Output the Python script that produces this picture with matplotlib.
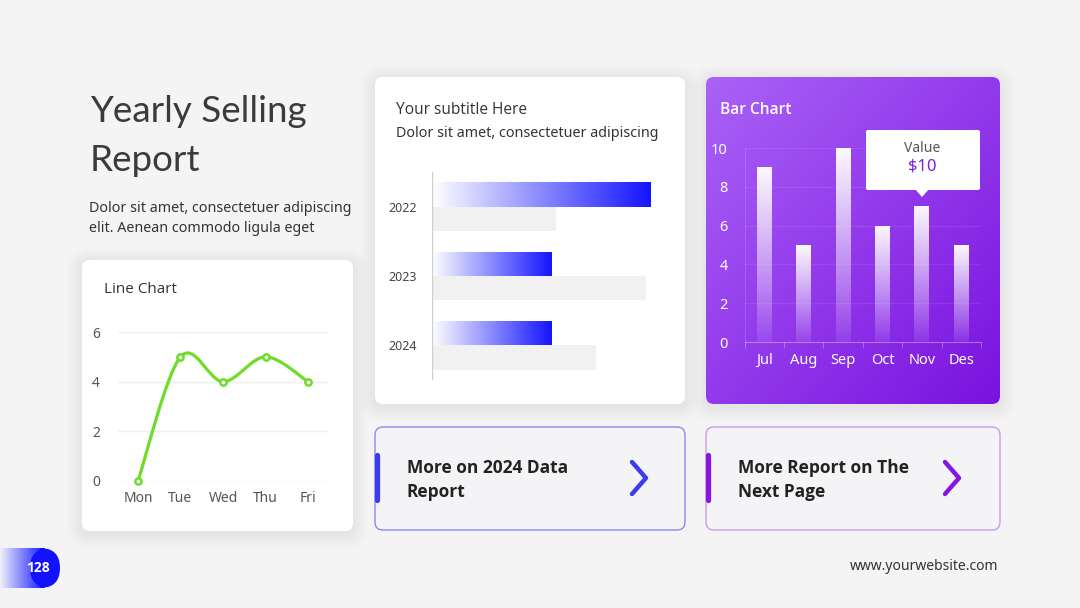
import numpy as np
import matplotlib.pyplot as plt
from matplotlib.patches import FancyBboxPatch, Polygon, PathPatch
from matplotlib.path import Path
from matplotlib.colors import to_rgb

# data ---------------------------------------------------------------------
days = ["Mon", "Tue", "Wed", "Thu", "Fri"]
day_values = [0, 5, 4, 5, 4]
day_ticks = [0, 2, 4, 6]

years = ["2022", "2023", "2024"]
year_blue = [100, 55, 55]
year_gray = [57, 98, 75]

months = ["Jul", "Aug", "Sep", "Oct", "Nov", "Des"]
month_values = [9, 5, 10, 6, 7, 5]
month_ticks = [0, 2, 4, 6, 8, 10]

W, H = 1080, 608
TITLE_FONT = ["Lato", "DejaVu Sans"]
HEAD_FONT = ["Open Sans", "DejaVu Sans"]
BODY_FONT = ["Noto Sans", "DejaVu Sans"]

fig = plt.figure(figsize=(W / 100, H / 100), dpi=100)
fig.patch.set_facecolor("#f4f4f4")
ax0 = fig.add_axes([0, 0, 1, 1])
ax0.set_facecolor("#f4f4f4")
ax0.axis("off")


def px_rect(x0, y0, x1, y1):
    """pixel box (top-left origin) -> figure fraction rect"""
    return [x0 / W, 1 - y1 / H, (x1 - x0) / W, (y1 - y0) / H]


def rbox(x0, y0, x1, y1, r, **kw):
    return FancyBboxPatch((x0, y0), x1 - x0, y1 - y0,
                          boxstyle=f"round,pad=0,rounding_size={r}", **kw)


def shadow(x0, y0, x1, y1, r=8):
    for k in range(1, 16):
        ax0.add_patch(rbox(x0 - k, y0 - k + 3, x1 + k, y1 + k + 3, r + k,
                           fc="#000000", ec="none", alpha=0.0028, zorder=1))


def gradient_img(ax, c0, c1, n=256, diag=False, extent=None, clip=None, z=2):
    c0 = np.array(to_rgb(c0))
    c1 = np.array(to_rgb(c1))
    xx, yy = np.meshgrid(np.linspace(0, 1, n), np.linspace(0, 1, n))
    t = (xx + yy) / 2 if diag else xx
    img = c0 + (c1 - c0) * t[..., None]
    im = ax.imshow(img, extent=extent, origin="upper", aspect="auto",
                   interpolation="bilinear", zorder=z)
    if clip is not None:
        im.set_clip_path(clip)
    return im


# titles -------------------------------------------------------------------
ax0.text(90, 122, "Yearly Selling", fontsize=26.5, color="#3b3b3b",
         family=TITLE_FONT, va="baseline")
ax0.text(90, 171, "Report", fontsize=26.5, color="#3b3b3b",
         family=TITLE_FONT, va="baseline")
ax0.text(89, 212, "Dolor sit amet, consectetuer adipiscing", fontsize=10.3,
         color="#333333", family=BODY_FONT, va="baseline")
ax0.text(89, 232, "elit. Aenean commodo ligula eget", fontsize=10.3,
         color="#333333", family=BODY_FONT, va="baseline")

# cards --------------------------------------------------------------------
shadow(82, 260, 353, 531)
ax0.add_patch(rbox(82, 260, 353, 531, 8, fc="white", ec="none", zorder=2))
ax0.text(104, 293, "Line Chart", fontsize=11, color="#333333",
         family=HEAD_FONT, va="baseline", zorder=3)

shadow(375, 77, 685, 404)
ax0.add_patch(rbox(375, 77, 685, 404, 8, fc="white", ec="none", zorder=2))
ax0.text(396, 114, "Your subtitle Here", fontsize=11.2, color="#333333",
         family=HEAD_FONT, va="baseline", zorder=3)
ax0.text(396, 137, "Dolor sit amet, consectetuer adipiscing", fontsize=10.3,
         color="#333333", family=BODY_FONT, va="baseline", zorder=3)

shadow(706, 77, 1000, 404)
purple_card = rbox(706, 77, 1000, 404, 8, fc="none", ec="none", zorder=2)
ax0.add_patch(purple_card)
gradient_img(ax0, "#aa62f7", "#7a12df", diag=True,
             extent=(706, 1000, 404, 77), clip=purple_card, z=2)
ax0.text(720, 114, "Bar Chart", fontsize=11.2, color="white",
         family=HEAD_FONT, va="baseline", zorder=3, weight="semibold")

# buttons
buttons = [
    (375, 685, "#8a8af2", "#3b3bf0", "More on 2024 Data", "Report", 632),
    (706, 1000, "#c99be9", "#8716de", "More Report on The", "Next Page", 945),
]
for x0, x1, edge, accent, l1, l2, cx in buttons:
    ax0.add_patch(rbox(x0, 427, x1, 530, 8, fc="#f4f4f7", ec=edge, lw=1, zorder=2))
    ax0.plot([x0 + 2, x0 + 2], [455, 500], color=accent, lw=3.8,
             solid_capstyle="round", zorder=3)
    ax0.text(x0 + 32, 473, l1, fontsize=12.5, weight="bold", color="#222222",
             family=HEAD_FONT, va="baseline", zorder=3)
    ax0.text(x0 + 32, 497, l2, fontsize=12.5, weight="bold", color="#222222",
             family=HEAD_FONT, va="baseline", zorder=3)
    ax0.plot([cx, cx + 14, cx], [462, 478, 494], color=accent, lw=3.2,
             solid_capstyle="round", solid_joinstyle="round", zorder=3)

# page pill
pill = rbox(-40, 548, 60, 588, 20, fc="none", ec="none", zorder=2)
ax0.add_patch(pill)
gradient_img(ax0, "#f0f0fd", "#1212ff", extent=(0, 45, 588, 548), clip=pill, z=2)
ax0.add_patch(rbox(30, 548, 60, 588, 20, fc="#1212ff", ec="none", zorder=2))
ax0.add_patch(Polygon([(40, 548), (45, 548), (45, 588), (40, 588)],
                      closed=True, fc="#1212ff", ec="none", zorder=2))
ax0.text(38, 568, "128", fontsize=10, weight="bold", color="white",
         family=HEAD_FONT, ha="center", va="center", zorder=3)
ax0.text(998, 567, "www.yourwebsite.com", fontsize=10, color="#333333",
         family=BODY_FONT, ha="right", va="center", zorder=3)

ax0.set_xlim(0, W)
ax0.set_ylim(H, 0)

# line chart ---------------------------------------------------------------
ax1 = fig.add_axes(px_rect(118, 332, 328, 481))
ax1.set_facecolor("none")
for s in ax1.spines.values():
    s.set_visible(False)
xs = np.arange(len(days))
pts = np.column_stack([xs, np.array(day_values, float)])
ext = np.vstack([pts[0], pts, pts[-1]])
verts = [tuple(pts[0])]
codes = [Path.MOVETO]
for i in range(len(pts) - 1):
    p0, p1, p2, p3 = ext[i], ext[i + 1], ext[i + 2], ext[i + 3]
    verts += [tuple(p1 + (p2 - p0) / 6), tuple(p2 - (p3 - p1) / 6), tuple(p2)]
    codes += [Path.CURVE4] * 3
ax1.add_patch(PathPatch(Path(verts, codes), fc="none", ec="#6edc2a", lw=2.3,
                        clip_on=False, zorder=3))
ax1.plot(xs, day_values, "o", ms=4.5, mfc="white", mec="#6edc2a", mew=1.8,
         clip_on=False, zorder=4)
for v in day_ticks:
    ax1.axhline(v, color="#efefef", lw=1, zorder=1)
ax1.set_xlim(-0.47, len(days) - 0.53)
ax1.set_ylim(0, 6)
ax1.set_xticks(xs, days)
ax1.set_yticks(day_ticks)
ax1.tick_params(length=0, labelsize=10, labelcolor="#555555")
ax1.tick_params(axis="y", pad=13)
ax1.tick_params(axis="x", pad=7)
for lab in ax1.get_xticklabels() + ax1.get_yticklabels():
    lab.set_family(BODY_FONT)

# horizontal bars ----------------------------------------------------------
ax2 = fig.add_axes(px_rect(432, 172, 672, 380))
ax2.set_facecolor("none")
for s in ax2.spines.values():
    s.set_visible(False)
ax2.axvline(0, color="#cfcfcf", lw=1, zorder=3)
yp = np.arange(len(years))
bh = 0.35
ax2.barh(yp + bh / 2, year_gray, height=bh, color="#f1f1f1", zorder=1)
blue_bars = ax2.barh(yp - bh / 2, year_blue, height=bh, color="none", zorder=2)
for b in blue_bars:
    x0, y0, w, h = b.get_x(), b.get_y(), b.get_width(), b.get_height()
    gradient_img(ax2, "#ffffff", "#1414ff", extent=(x0, x0 + w, y0 + h, y0),
                 clip=b, z=2)
ax2.set_xlim(0, 110)
ax2.set_ylim(len(years) - 0.5, -0.5)
ax2.set_xticks([])
ax2.set_yticks(yp, years)
ax2.tick_params(length=0, labelsize=9, labelcolor="#444444", pad=11)
for lab in ax2.get_yticklabels():
    lab.set_family(BODY_FONT)

# vertical bars ------------------------------------------------------------
ax3 = fig.add_axes(px_rect(744.5, 148, 981, 342))
ax3.set_facecolor("none")
for s in ["top", "right"]:
    ax3.spines[s].set_visible(False)
ax3.spines["left"].set_color((1, 1, 1, 0.15))
ax3.spines["bottom"].set_color((1, 1, 1, 0.35))
mx = np.arange(len(months))
for v in month_ticks[1:]:
    ax3.axhline(v, color=(1, 1, 1, 0.08), lw=1, zorder=1)
vbars = ax3.bar(mx, month_values, width=0.38, color="none", zorder=2)
grad = np.ones((256, 2, 4))
grad[..., 3] = np.linspace(0.97, 0.08, 256)[:, None]
for b in vbars:
    x0, w, h = b.get_x(), b.get_width(), b.get_height()
    im = ax3.imshow(grad, extent=(x0, x0 + w, 0, h), origin="upper",
                    aspect="auto", interpolation="bilinear", zorder=2)
    im.set_clip_path(b)
ax3.set_xlim(-0.5, len(months) - 0.5)
ax3.set_ylim(0, 10)
ax3.set_xticks(mx, months)
ax3.set_xticks(np.arange(len(months) + 1) - 0.5, minor=True)
ax3.set_yticks(month_ticks)
ax3.tick_params(axis="x", which="major", length=0, pad=8)
ax3.tick_params(axis="x", which="minor", length=4, color=(1, 1, 1, 0.35))
ax3.tick_params(axis="y", length=0, pad=12)
ax3.tick_params(labelsize=10.5, labelcolor="white")
for lab in ax3.get_xticklabels() + ax3.get_yticklabels():
    lab.set_family(BODY_FONT)
    lab.set_weight("semibold")

# tooltip over Nov
tip = rbox(866, 130, 980, 190, 2, fc="white", ec="none", zorder=6,
           transform=ax0.transData, clip_on=False)
ax3.add_patch(tip)
ax3.add_patch(Polygon([(915, 189), (922, 197), (929, 189)], closed=True, fc="white",
                      ec="none", zorder=6, transform=ax0.transData, clip_on=False))
ax3.text(922, 148, "Value", fontsize=10, color="#555555", family=BODY_FONT,
         ha="center", va="center", transform=ax0.transData, zorder=7)
ax3.text(922, 166, "$10", fontsize=12, color="#7a1fd6", family=BODY_FONT,
         weight="medium", ha="center", va="center", transform=ax0.transData, zorder=7)

fig.savefig("out.png", dpi=100, facecolor=fig.get_facecolor())
